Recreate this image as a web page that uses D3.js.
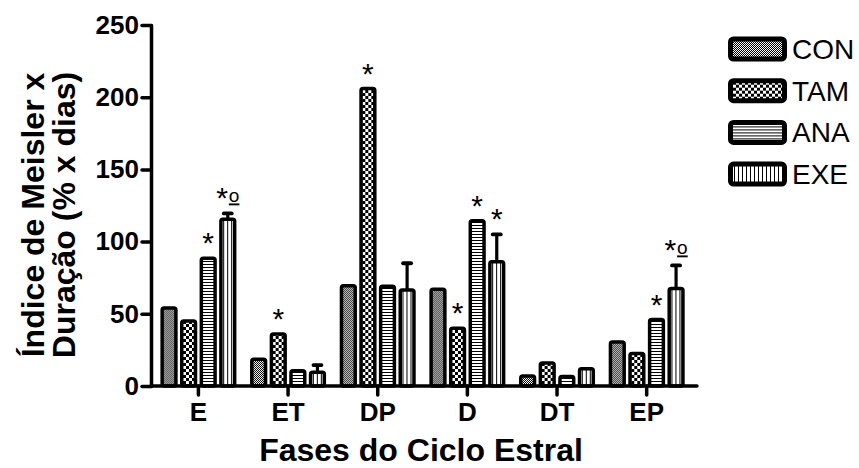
<!DOCTYPE html>
<html>
<head>
<meta charset="utf-8">
<script src="https://cdn.jsdelivr.net/npm/d3@7"></script>
<style>
  body { margin: 0; background: #fff; }
  text { font-family: "Liberation Sans", Arial, sans-serif; fill: #000; }
  .axis text { font-weight: bold; font-size: 26px; }
  .axis line, .axis path { stroke: #000; stroke-width: 3.5px; stroke-linecap: round; }
</style>
</head>
<body>
<div id="chart"></div>
<script>
// fases do ciclo e grupos
var phases = ["E", "ET", "DP", "D", "DT", "EP"];
var groups = ["CON", "TAM", "ANA", "EXE"];

var conValues = [54, 18.5, 69.5, 67, 7, 30.5];
var tamValues = [45, 36, 206, 40, 16, 22.5];
var anaValues = [88.5, 10.5, 69, 114.5, 6.5, 46];
var exeValues = [115.5, 9.5, 66.5, 86, 12, 67.5];
var exeErrors = [4, 5, 18.5, 19, 0, 16];

// marcas de significancia (fase, grupo, asterisco, sobrescrito)
var marks = [
	["E", "ANA", "*", ""], ["E", "EXE", "*", "o"],
	["ET", "TAM", "*", ""],
	["DP", "TAM", "*", ""],
	["D", "TAM", "*", ""], ["D", "ANA", "*", ""], ["D", "EXE", "*", ""],
	["EP", "ANA", "*", ""], ["EP", "EXE", "*", "o"]
];

var yTicks = [0, 50, 100, 150, 200, 250];

var width = 859, height = 468;

var table = [];
phases.forEach(function(p, i){
	table.push({phase: p, group: "CON", value: conValues[i], err: 0});
	table.push({phase: p, group: "TAM", value: tamValues[i], err: 0});
	table.push({phase: p, group: "ANA", value: anaValues[i], err: 0});
	table.push({phase: p, group: "EXE", value: exeValues[i], err: exeErrors[i]});
});

var svg = d3.select("#chart").append("svg")
	.attr("width", width)
	.attr("height", height);

// padroes de preenchimento
var defs = svg.append("defs");

var pCon = defs.append("pattern").attr("id", "p-CON")
	.attr("patternUnits", "userSpaceOnUse").attr("width", 2).attr("height", 2);
pCon.append("rect").attr("width", 2).attr("height", 2).attr("fill", "#fff");
pCon.append("rect").attr("width", 1).attr("height", 1).attr("fill", "#000");
pCon.append("rect").attr("x", 1).attr("y", 1).attr("width", 1).attr("height", 1).attr("fill", "#000");

var pTam = defs.append("pattern").attr("id", "p-TAM")
	.attr("patternUnits", "userSpaceOnUse").attr("width", 6).attr("height", 6);
pTam.append("rect").attr("width", 6).attr("height", 6).attr("fill", "#fff");
pTam.append("rect").attr("width", 3).attr("height", 3).attr("fill", "#000");
pTam.append("rect").attr("x", 3).attr("y", 3).attr("width", 3).attr("height", 3).attr("fill", "#000");

var pAna = defs.append("pattern").attr("id", "p-ANA")
	.attr("patternUnits", "userSpaceOnUse").attr("width", 3).attr("height", 3);
pAna.append("rect").attr("width", 3).attr("height", 3).attr("fill", "#fff");
pAna.append("rect").attr("width", 3).attr("height", 1).attr("fill", "#000");

var pExe = defs.append("pattern").attr("id", "p-EXE")
	.attr("patternUnits", "userSpaceOnUse").attr("width", 4).attr("height", 4);
pExe.append("rect").attr("width", 4).attr("height", 4).attr("fill", "#fff");
pExe.append("rect").attr("width", 1).attr("height", 4).attr("fill", "#000");

var x = d3.scaleBand()
	.domain(phases)
	.range([151, 697])
	.paddingInner(0)
	.paddingOuter(0.045)
	.align(0.32);

var xg = d3.scaleBand()
	.domain(groups)
	.range([-38, 38])
	.paddingInner(0.12);

var y = d3.scaleLinear()
	.domain([0, 250])
	.range([386, 25]);

var sw = 3.5;

// barras
var bars = svg.append("g").selectAll("g.bar")
	.data(table).enter()
	.append("g")
	.attr("class", "bar")
	.attr("transform", function(d){ return "translate(" + (x(d.phase) + x.bandwidth() / 2 + xg(d.group)) + ",0)"; });

// barras de erro (desenhadas antes para ficarem atras)
bars.filter(function(d){ return d.err > 0; }).append("line")
	.attr("x1", xg.bandwidth() / 2).attr("x2", xg.bandwidth() / 2)
	.attr("y1", function(d){ return y(d.value); })
	.attr("y2", function(d){ return y(d.value + d.err); })
	.attr("stroke", "#000").attr("stroke-width", 3.2);

bars.filter(function(d){ return d.err > 0; }).append("line")
	.attr("x1", xg.bandwidth() / 2 - 4).attr("x2", xg.bandwidth() / 2 + 4)
	.attr("y1", function(d){ return y(d.value + d.err); })
	.attr("y2", function(d){ return y(d.value + d.err); })
	.attr("stroke", "#000").attr("stroke-width", 3.8)
	.attr("stroke-linecap", "round");

bars.append("rect")
	.attr("x", sw / 2)
	.attr("width", xg.bandwidth() - sw)
	.attr("y", function(d){ return y(d.value); })
	.attr("height", function(d){ return y(0) - y(d.value); })
	.attr("rx", 2).attr("ry", 2)
	.attr("fill", function(d){ return "url(#p-" + d.group + ")"; })
	.attr("stroke", "#000")
	.attr("stroke-width", sw);

// asteriscos
var star = svg.append("g").selectAll("text")
	.data(marks).enter()
	.append("text")
	.attr("x", function(m){ return x(m[0]) + x.bandwidth() / 2 + xg(m[1]) + xg.bandwidth() / 2; })
	.attr("y", function(m){
		var d = table.find(function(t){ return t.phase == m[0] && t.group == m[1]; });
		return y(d.value + d.err) - 5;
	})
	.attr("text-anchor", "middle")
	.style("font-size", "30px");
star.append("tspan").text(function(m){ return m[2]; });
star.append("tspan")
	.attr("dx", 1)
	.attr("dy", -6)
	.style("font-size", "19px")
	.style("text-decoration", "underline")
	.text(function(m){ return m[3]; });

// eixos
var yAxis = d3.axisLeft(y).tickValues(yTicks).tickSize(9).tickSizeOuter(0).tickPadding(3);
svg.append("g")
	.attr("class", "axis")
	.attr("transform", "translate(151,0)")
	.call(yAxis);

var xAxis = d3.axisBottom(x).tickSize(9).tickSizeOuter(0).tickPadding(8);
var gx = svg.append("g")
	.attr("class", "axis")
	.attr("transform", "translate(0," + y(0) + ")")
	.call(xAxis);
gx.select(".domain").attr("d", "M" + x.range()[0] + ",0H" + x.range()[1]);

// titulos
svg.append("text")
	.attr("x", (x.range()[0] + x.range()[1]) / 2 - 3)
	.attr("y", 461)
	.attr("text-anchor", "middle")
	.style("font-weight", "bold")
	.style("font-size", "32px")
	.text("Fases do Ciclo Estral");

var yTitle = svg.append("text")
	.attr("transform", "translate(0,215) rotate(-90)")
	.attr("text-anchor", "middle")
	.style("font-weight", "bold")
	.style("font-size", "32px");
yTitle.append("tspan").attr("x", 0).attr("y", 44).text("Índice de Meisler x");
yTitle.append("tspan").attr("x", 0).attr("y", 75).text("Duração (% x dias)");

// legenda
var legend = svg.append("g").selectAll("g")
	.data(groups).enter()
	.append("g")
	.attr("transform", function(d, i){ return "translate(730," + (49 + i * 41.7) + ")"; });

legend.append("rect")
	.attr("x", 0.5).attr("y", -10)
	.attr("width", 54).attr("height", 20)
	.attr("rx", 3).attr("ry", 3)
	.attr("fill", function(d){ return "url(#p-" + d + ")"; })
	.attr("stroke", "#000")
	.attr("stroke-width", 5);

legend.append("text")
	.attr("x", 62)
	.attr("y", 10)
	.style("font-size", "28px")
	.text(function(d){ return d; });
</script>
</body>
</html>
